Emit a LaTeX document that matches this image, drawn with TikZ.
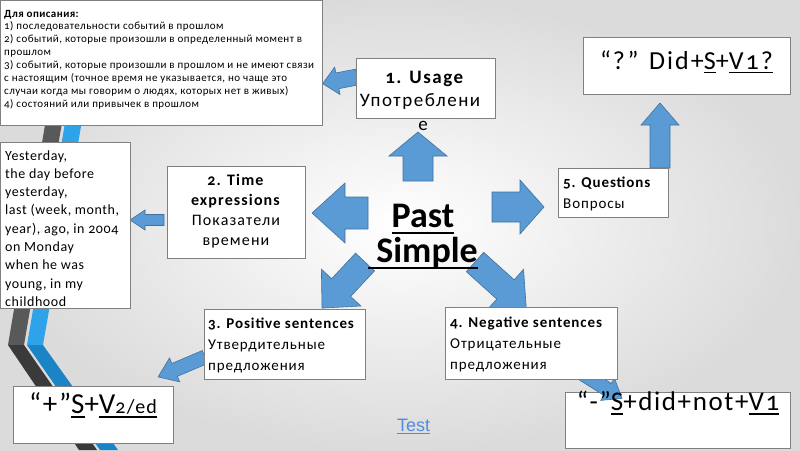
\documentclass[tikz,border=0pt]{standalone}
\usepackage{fontspec}
\setmainfont{Carlito}[Numbers=OldStyle]
\newfontfamily\testfont{Liberation Sans}
\newcommand\lsp[1]{\addfontfeatures{LetterSpace=#1}}
\definecolor{arrowblue}{HTML}{5B9BD5}
\definecolor{arrowedge}{HTML}{41719C}
\definecolor{boxedge}{HTML}{808080}
\definecolor{stripegray}{HTML}{595959}
\definecolor{stripegrayd}{HTML}{3A3A3A}
\definecolor{stripeblue}{HTML}{2EA3EA}
\definecolor{stripeblued}{HTML}{1B84C6}
\definecolor{linkblue}{HTML}{4F8BE0}
% underline: #1 thickness, #2 depth below baseline, #3 text
\newcommand\myul[3]{\begingroup\setbox0\hbox{#3}\leavevmode
  \rlap{\vrule width \wd0 height \dimexpr-#2\relax depth \dimexpr#2+#1\relax}\box0\endgroup}
\tikzset{
  box/.style={draw=boxedge, line width=0.8pt, fill=white, inner sep=0pt, anchor=north west},
  arrowsty/.style={fill=arrowblue, draw=arrowedge, line width=0.6pt, line join=miter},
  txt/.style={inner sep=0pt, anchor=base west},
  ctxt/.style={inner sep=0pt, anchor=base}
}
% tail x, tail y, angle, length, shaft half, head half, head length
\newcommand\blockarrow[7]{%
  \begin{scope}[shift={(#1,#2)},rotate=#3]
    \filldraw[arrowsty] (0,-#5) -- ({#4-#7},-#5) -- ({#4-#7},-#6) -- (#4,0)
      -- ({#4-#7},#6) -- ({#4-#7},#5) -- (0,#5) -- cycle;
  \end{scope}}
\begin{document}
\begin{tikzpicture}[x=1pt,y=-1pt]
\useasboundingbox (0,0) rectangle (800,450);
\shade[inner color=white, outer color=black!14] (0,0) rectangle (800,450);
% decorative stripes
\fill[stripegray] (66,0) -- (83,0) -- (24,345) -- (8,345) -- cycle;
\fill[stripegrayd] (8,345) -- (24,345) -- (97,450) -- (79,450) -- cycle;
\fill[stripeblue] (86,0) -- (103,0) -- (43,345) -- (27,345) -- cycle;
\fill[stripeblued] (27,345) -- (43,345) -- (118,450) -- (100,450) -- cycle;
% lower-right formula box lies under its arrow
\node[box, minimum width=225, minimum height=56] (nform) at (565,392) {};
% block arrows
\blockarrow{357}{77}{191}{35}{8}{14}{15}
\blockarrow{418}{181}{90}{49}{15}{29}{24}
\blockarrow{368}{213}{180}{56}{16}{30}{33}
\blockarrow{164}{220}{180}{34}{5.5}{10}{15}
\blockarrow{492}{207}{0}{52}{15}{27}{24}
\blockarrow{660}{168}{90}{65}{10}{19}{22}
\blockarrow{365}{262}{227}{63}{13}{27}{28}
\blockarrow{475}{262}{318}{69}{13}{27}{28}
\blockarrow{205}{357}{203}{51}{7}{13}{18}
\blockarrow{583}{374}{328}{46}{7}{13}{17}
% boxes
\node[box, minimum width=322, minimum height=125] (desc) at (0,0) {};
\node[box, minimum width=130, minimum height=166] (yest) at (0,142) {};
\node[box, minimum width=138, minimum height=92] (time) at (167,166) {};
\node[box, minimum width=139, minimum height=60] (usage) at (356,58) {};
\node[box, minimum width=110, minimum height=49] (quest) at (558,168) {};
\node[box, minimum width=207, minimum height=57] (qform) at (583,37) {};
\node[box, minimum width=161, minimum height=70] (pos) at (204,309) {};
\node[box, minimum width=172, minimum height=72] (neg) at (445,307) {};
\node[box, minimum width=160, minimum height=57] (pform) at (13,386) {};
% texts
\node[txt] (desctext) at (4,17) {\parbox[t]{318pt}{\fontsize{11}{12.9}\selectfont\lsp{4}\raggedright
\textbf{Для описания:}\\
1) последовательности событий в прошлом\\
2) событий, которые произошли в определенный момент в\\
прошлом\\
3) событий, которые произошли в прошлом и не имеют связи\\
с настоящим (точное время не указывается, но чаще это\\
случаи когда мы говорим о людях, которых нет в живых)\\
4) состояний или привычек в прошлом}};
\node[txt] (yesttext) at (5,160) {\parbox[t]{140pt}{\fontsize{14}{18.3}\selectfont\lsp{4}\raggedright
Yesterday,\\the day before\\yesterday,\\last (week, month,\\year), ago, in 2004\\on Monday\\when he was\\young, in my\\childhood}};
\node[ctxt] (timetext) at (236,185) {\parbox[t]{160pt}{\fontsize{16}{20.3}\selectfont\lsp{7}\centering
\textbf{2. Time}\\\textbf{expressions}\\Показатели\\времени}};
\node[ctxt] (usagetext) at (423,83) {\parbox[t]{170pt}{\fontsize{19}{23.5}\selectfont\lsp{8}\centering
\hspace*{4pt}\textbf{1. Usage}\\\hspace*{-6pt}Употреблени\\е}};
\node[ctxt] (pasttext) at (423,227) {\parbox[t]{220pt}{\fontsize{36}{35.5}\selectfont\centering\bfseries
\myul{2.2pt}{5pt}{Past}\\\myul{2.2pt}{4pt}{\ Simple}}};
\node[txt] (questtext) at (563,187) {\parbox[t]{140pt}{\fontsize{15}{21}\selectfont\lsp{6}\raggedright
\textbf{5. Questions}\\Вопросы}};
\node[txt] (postext) at (208,328) {\parbox[t]{170pt}{\fontsize{15}{21}\selectfont\lsp{6}\raggedright
\textbf{3. Positive sentences}\\Утвердительные\\предложения}};
\node[txt] (negtext) at (450,327) {\parbox[t]{180pt}{\fontsize{15}{21}\selectfont\lsp{6}\raggedright
\textbf{4. Negative sentences}\\Отрицательные\\предложения}};
\node[ctxt] (qformtext) at (686.5,69) {\fontsize{26}{28}\selectfont\lsp{8}%
“?” Did+\myul{1.4pt}{3pt}{S}+\myul{1.4pt}{3pt}{V1?}};
\node[ctxt] (pformtext) at (93,413) {\fontsize{29}{30}\selectfont\lsp{6}%
“+”\myul{1.5pt}{3pt}{S}+\myul{1.5pt}{3pt}{V{\fontsize{20}{20}\selectfont 2/ed}}};
\node[ctxt] (nformtext) at (678,410) {\fontsize{27}{28}\selectfont\lsp{6}%
“-”\myul{1.5pt}{3pt}{S}+did+not+\myul{1.5pt}{3pt}{V1}};
\node[txt, text=linkblue] (test) at (397,431) {\testfont\fontsize{18}{18}\selectfont
\myul{1pt}{2pt}{Test}};
\end{tikzpicture}
\end{document}
